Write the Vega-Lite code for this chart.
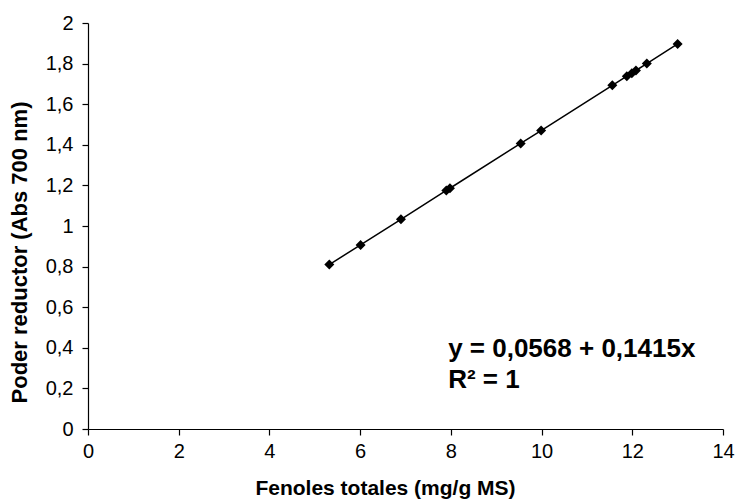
{
  "$schema": "https://vega.github.io/schema/vega-lite/v6.json",
  "width": 635,
  "height": 406,
  "autosize": {"type": "none"},
  "padding": {"left": 88, "top": 23, "right": 13, "bottom": 71},
  "background": "white",
  "config": {
    "view": {"stroke": null},
    "font": "Liberation Sans",
    "axis": {
      "domainColor": "#000000",
      "domainWidth": 1.2,
      "tickColor": "#000000",
      "tickWidth": 1.2,
      "tickSize": 6,
      "grid": false,
      "labelColor": "#000000",
      "labelFont": "Liberation Sans",
      "labelFontSize": 20,
      "titleColor": "#000000",
      "titleFont": "Liberation Sans",
      "titleFontWeight": "bold"
    }
  },
  "datasets": {
    "points": [
      {"fenoles": 5.32, "poder": 0.810},
      {"fenoles": 6.01, "poder": 0.907},
      {"fenoles": 6.90, "poder": 1.033},
      {"fenoles": 7.90, "poder": 1.175},
      {"fenoles": 7.98, "poder": 1.186},
      {"fenoles": 9.54, "poder": 1.407},
      {"fenoles": 9.99, "poder": 1.470},
      {"fenoles": 11.56, "poder": 1.693},
      {"fenoles": 11.88, "poder": 1.738},
      {"fenoles": 11.99, "poder": 1.753},
      {"fenoles": 12.08, "poder": 1.766},
      {"fenoles": 12.32, "poder": 1.800},
      {"fenoles": 13.00, "poder": 1.897}
    ],
    "eq": [{"label": "y = 0,0568 + 0,1415x"}],
    "r2": [{"label": "R² = 1"}]
  },
  "layer": [
    {
      "data": {"name": "points"},
      "mark": {"type": "line", "color": "#000000", "strokeWidth": 1.5},
      "encoding": {
        "x": {
          "field": "fenoles",
          "type": "quantitative",
          "scale": {"domain": [0, 14], "nice": false, "zero": false},
          "axis": {
            "title": "Fenoles totales (mg/g MS)",
            "titleFontSize": 21,
            "titlePadding": 16,
            "titleX": 297,
            "values": [0, 2, 4, 6, 8, 10, 12, 14],
            "labelPadding": 6,
            "labelFlush": false
          }
        },
        "y": {
          "field": "poder",
          "type": "quantitative",
          "scale": {"domain": [0, 2], "nice": false},
          "axis": {
            "title": "Poder reductor (Abs 700 nm)",
            "titleFontSize": 22,
            "titlePadding": 14,
            "titleY": 229,
            "values": [0, 0.2, 0.4, 0.6, 0.8, 1, 1.2, 1.4, 1.6, 1.8, 2],
            "labelPadding": 9,
            "labelFlush": false,
            "labelExpr": "datum.value == floor(datum.value) ? format(datum.value, 'd') : replace(format(datum.value, '.1f'), '.', ',')"
          }
        }
      }
    },
    {
      "data": {"name": "points"},
      "mark": {"type": "point", "shape": "diamond", "filled": true, "color": "#000000", "size": 100, "opacity": 1},
      "encoding": {
        "x": {"field": "fenoles", "type": "quantitative"},
        "y": {"field": "poder", "type": "quantitative"}
      }
    },
    {
      "data": {"name": "eq"},
      "mark": {"type": "text", "align": "left", "baseline": "alphabetic", "fontSize": 26, "fontWeight": "bold", "font": "Liberation Sans", "color": "#000000"},
      "encoding": {"x": {"datum": 7.94}, "y": {"datum": 0.354}, "text": {"field": "label"}}
    },
    {
      "data": {"name": "r2"},
      "mark": {"type": "text", "align": "left", "baseline": "alphabetic", "fontSize": 26, "fontWeight": "bold", "font": "Liberation Sans", "color": "#000000"},
      "encoding": {"x": {"datum": 7.94}, "y": {"datum": 0.202}, "text": {"field": "label"}}
    }
  ]
}
